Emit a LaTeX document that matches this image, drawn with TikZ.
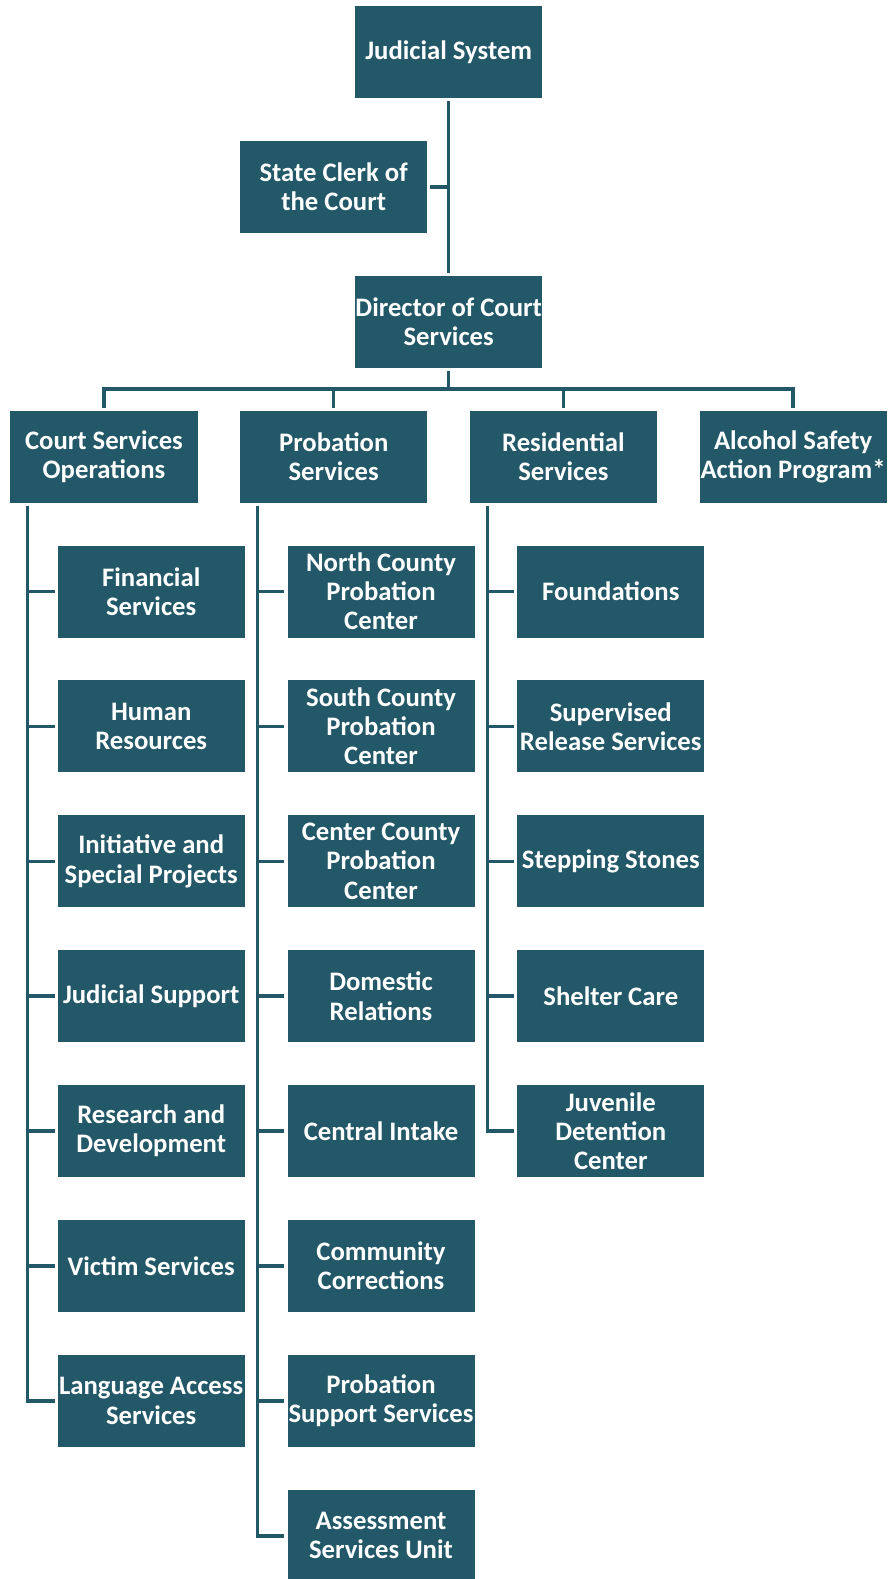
\documentclass[tikz,border=0pt]{standalone}
\usepackage{fontspec}
\setmainfont{Carlito}
\usepackage{tikz}
\usetikzlibrary{positioning}

\definecolor{boxteal}{HTML}{225867}

\tikzset{
	unit/.style={fill=boxteal, text=white, align=center,
		font=\bfseries\fontsize{26.7bp}{29.2bp}\selectfont,
		minimum width=187bp, minimum height=92bp, inner sep=0pt},
	link/.style={draw=boxteal, line width=3.5bp, shorten <=3bp},
	tolink/.style={link, shorten >=3bp}
}

\begin{document}
\begin{tikzpicture}[x=1bp,y=-1bp]
\useasboundingbox (0,0) rectangle (891,1579);

\node[unit] (judicial) at (448.7,51.8) {Judicial System};
\node[unit] (clerk) at (333.7,187) {State Clerk of\\the Court};
\node[unit] (director) at (448.7,322) {Director of Court\\Services};

\draw[tolink] (judicial) -- (director);
\draw[link] (clerk.east) -- (clerk.east -| judicial.south);

\node[unit] (ops) at (104,456.7) {Court Services\\Operations};
\node[unit] (prob) at (333.7,456.7) {Probation\\Services};
\node[unit] (res) at (563.4,456.7) {Residential\\Services};
\node[unit] (asap) at (793.1,456.7) {Alcohol Safety\\Action Program*};

\coordinate (bus) at (448.7,389);
\draw[link] (director) -- (bus);
\draw[tolink] (ops.north) -- ++(0,-21.7) -| (asap.north);
\draw[link] (prob.north) -- ++(0,-21.7);
\draw[link] (res.north) -- ++(0,-21.7);

% operations
\foreach \t [count=\i] in {{Financial\\Services},{Human\\Resources},
	{Initiative and\\Special Projects},{Judicial Support},
	{Research and\\Development},{Victim Services},{Language Access\\Services}}
{
	\node[unit] (ops\i) at (151.2,{456.6+134.9*\i}) {\t};
	\draw[tolink] (ops.south west) ++(17.3,0) |- (ops\i.west);
}

% probation
\foreach \t [count=\i] in {{North County\\Probation\\Center},{South County\\Probation\\Center},
	{Center County\\Probation\\Center},{Domestic\\Relations},{Central Intake},
	{Community\\Corrections},{Probation\\Support Services},{Assessment\\Services Unit}}
{
	\node[unit] (prob\i) at (381,{456.6+134.9*\i}) {\t};
	\draw[tolink] (prob.south west) ++(17.7,0) |- (prob\i.west);
}

% residential
\foreach \t [count=\i] in {{Foundations},{Supervised\\Release Services},
	{Stepping Stones},{Shelter Care},{Juvenile\\Detention\\Center}}
{
	\node[unit] (res\i) at (610.8,{456.6+134.9*\i}) {\t};
	\draw[tolink] (res.south west) ++(17.7,0) |- (res\i.west);
}

\end{tikzpicture}
\end{document}
